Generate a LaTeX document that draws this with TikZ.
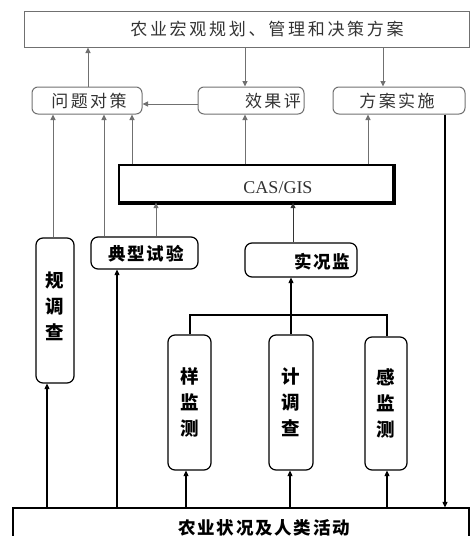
\documentclass[tikz,border=0pt]{standalone}
\usepackage{fontspec}
\setmainfont{Liberation Serif}
\newfontfamily\cjkA[LetterSpace=16]{Noto Sans CJK SC}
\newfontfamily\cjkB[LetterSpace=14]{Noto Sans CJK SC}
\newfontfamily\cjkC[LetterSpace=10]{Noto Sans CJK SC}
\newfontfamily\cjkv{Noto Sans CJK SC}
\usetikzlibrary{arrows.meta}
\definecolor{lg}{HTML}{707070}
\definecolor{tg}{HTML}{333333}
\tikzset{
  gbox/.style={draw=lg, line width=1pt, rounded corners=6pt, inner sep=0pt},
  bbox/.style={draw=black, line width=1.2pt, rounded corners=7pt, inner sep=0pt},
  sqbox/.style={draw=lg, line width=1pt, inner sep=0pt},
  ttxt/.style={text=tg, font=\cjkA\fontsize{17}{20}\selectfont, inner sep=0pt},
  gtxt/.style={text=tg, font=\cjkB\fontsize{17}{20}\selectfont, inner sep=0pt},
  btxt/.style={text=black, font=\cjkC\bfseries\fontsize{17.5}{20}\selectfont, inner sep=0pt},
  vtxt/.style={text=black, align=center, font=\cjkv\bfseries\fontsize{18.5}{26}\selectfont, inner sep=0pt},
  garr/.style={draw=lg, line width=1pt, -{Triangle[length=5.5pt,width=5pt]}},
  barr/.style={draw=black, line width=1.1pt, -{Triangle[length=5.5pt,width=5pt]}},
  bline/.style={draw=black, line width=1.1pt}
}
\begin{document}
\begin{tikzpicture}[x=1pt,y=-1pt]
\useasboundingbox (0,0) rectangle (470,536);
% top box
\node[sqbox, minimum width=445pt, minimum height=36pt] (top) at (246.5,29) {};
\node[ttxt] (topt) at (267,29) {农业宏观规划、管理和决策方案};
% row 2
\node[gbox, minimum width=110pt, minimum height=27pt] (wt) at (87,100.5) {};
\node[gtxt] (wtt) at (89,101) {问题对策};
\node[gbox, minimum width=106pt, minimum height=27pt] (xg) at (251,100.5) {};
\node[gtxt] (xgt) at (273,101) {效果评};
\node[gbox, minimum width=132pt, minimum height=27pt] (fa) at (399,100.5) {};
\node[gtxt] (fat) at (397,101) {方案实施};
% CAS/GIS
\node[draw=black, line width=1.3pt, minimum width=274pt, minimum height=37pt, inner sep=0pt] (cas) at (256,183.5) {};
\draw[black, line width=2.5pt] ([xshift=1pt]cas.north east) -- ([xshift=1pt,yshift=-1pt]cas.south east) -- ([yshift=-1pt]cas.south west);
\node[text=tg, font=\fontsize{18}{20}\selectfont, inner sep=0pt] (cast) at (278,188) {CAS/GIS};
% middle boxes
\node[bbox, minimum width=107pt, minimum height=32pt] (dx) at (144.5,253) {};
\node[btxt] (dxt) at (146,254) {典型试验};
\node[bbox, minimum width=112pt, minimum height=34pt] (sk) at (301,260) {};
\node[btxt] (skt) at (322,262) {实况监};
\node[bbox, minimum width=38pt, minimum height=145pt] (gd) at (55,310.5) {};
\node[vtxt] (gdt) at (55,306) {规\\调\\查};
% tall boxes
\node[bbox, minimum width=43pt, minimum height=135pt] (ys) at (189.5,402.5) {};
\node[vtxt] (yst) at (190,402) {样\\监\\测};
\node[bbox, minimum width=44pt, minimum height=135pt] (jd) at (291,402.5) {};
\node[vtxt] (jdt) at (291,402) {计\\调\\查};
\node[bbox, minimum width=42pt, minimum height=133pt] (gc) at (386,403.5) {};
\node[vtxt] (gct) at (386,403) {感\\监\\测};
% bottom box
\node[draw=black, line width=1.2pt, minimum width=456pt, minimum height=40pt, inner sep=0pt] (bot) at (241,528) {};
\node[btxt] (bott) at (264,528) {农业状况及人类活动};
% gray connectors (upper part)
\draw[garr] (wt.north -| 88,0) -- (top.south -| 88,0);
\draw[garr] (top.south -| 245,0) -- (xg.north -| 245,0);
\draw[garr] (top.south -| 383,0) -- (fa.north -| 383,0);
\draw[garr] (xg.west |- 0,104) -- (wt.east |- 0,104);
\draw[garr] (gd.north -| 53,0) -- (wt.south -| 53,0);
\draw[garr] (dx.north -| 104,0) -- (wt.south -| 104,0);
\draw[garr] (cas.north -| 132,0) -- (wt.south -| 132,0);
\draw[garr] (cas.north -| 245,0) -- (xg.south -| 245,0);
\draw[garr] (cas.north -| 368,0) -- (fa.south -| 368,0);
\draw[garr] (dx.north -| 156,0) -- (cas.south -| 156,0);
\draw[garr, draw=tg] (sk.north -| 293,0) -- (cas.south -| 293,0);
% right feedback line
\draw[barr] (fa.south -| 445,0) -- (bot.north -| 445,0);
% bottom arrows
\draw[barr] (bot.north -| 47,0) -- (gd.south -| 47,0);
\draw[barr] (bot.north -| 117,0) -- (dx.south -| 117,0);
\draw[barr] (bot.north -| 186,0) -- (ys.south -| 186,0);
\draw[barr] (bot.north -| 290,0) -- (jd.south -| 290,0);
\draw[barr] (bot.north -| 387,0) -- (gc.south -| 387,0);
% bus
\coordinate (bus) at (291,315);
\coordinate (busL) at (190,315);
\coordinate (busR) at (387,315);
\draw[barr] (bus) -- (sk.south -| bus);
\draw[bline] (ys.north -| busL) -- (busL) -- (busR) -- (gc.north -| busR);
\draw[bline] (jd.north -| bus) -- (bus);
\end{tikzpicture}
\end{document}
